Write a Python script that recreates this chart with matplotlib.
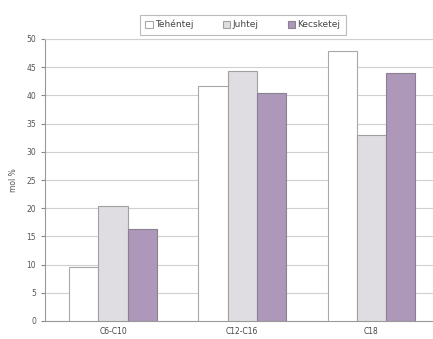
import matplotlib
matplotlib.use("Agg")
import matplotlib.pyplot as plt
import numpy as np

categories = ["C6-C10", "C12-C16", "C18"]
series_names = ["Tehéntej", "Juhtej", "Kecsketej"]
tehentej = [9.5, 41.6, 47.9]
juhtej = [20.4, 44.3, 33.0]
kecsketej = [16.4, 40.5, 43.9]
yticks = list(range(0, 55, 5))

fig = plt.figure(figsize=(4.33, 3.39), dpi=100)
ax = fig.add_axes([45/433, (339-321)/339, (433-45)/433, (321-39)/339])

x = np.arange(len(categories))
w = 0.225
colors = ["#ffffff", "#e0dde2", "#ad98ba"]
edges = ["#a8a8a8", "#a0a0a0", "#8a8090"]
for i, (vals, c, e, n) in enumerate(zip([tehentej, juhtej, kecsketej], colors, edges, series_names)):
    ax.bar(x + (i - 1) * w, vals, w, color=c, edgecolor=e, linewidth=0.8, label=n, zorder=3)

ax.set_xlim(-0.527, 2.48)
ax.set_ylim(0, 50)
ax.set_yticks(yticks)
ax.set_xticks(x)
ax.set_xticklabels(categories, fontsize=5.5, color="#444444")
ax.tick_params(axis="y", labelsize=5.5, colors="#888888", labelcolor="#555555", length=3)
ax.tick_params(axis="x", length=0, pad=4, labelcolor="#444444")
ax.yaxis.grid(True, color="#d0d0d0", linewidth=0.8, zorder=0)
for s in ["left", "bottom"]:
    ax.spines[s].set_color("#999999")
ax.spines["top"].set_color("#d0d0d0")
ax.spines["right"].set_visible(False)
ax.set_ylabel("mol %", fontsize=5.5, color="#555555", labelpad=6)

leg = fig.legend(loc="upper center", bbox_to_anchor=(243/433, 1 - 10/339), ncol=3, fontsize=6.5,
                 frameon=True, fancybox=False, edgecolor="#aaaaaa", handlelength=0.8,
                 handleheight=0.8, columnspacing=3.2, handletextpad=0.3, borderpad=0.6)
leg.get_frame().set_linewidth(0.8)
for t in leg.get_texts():
    t.set_color("#444444")

fig.savefig("out.png", dpi=100)
